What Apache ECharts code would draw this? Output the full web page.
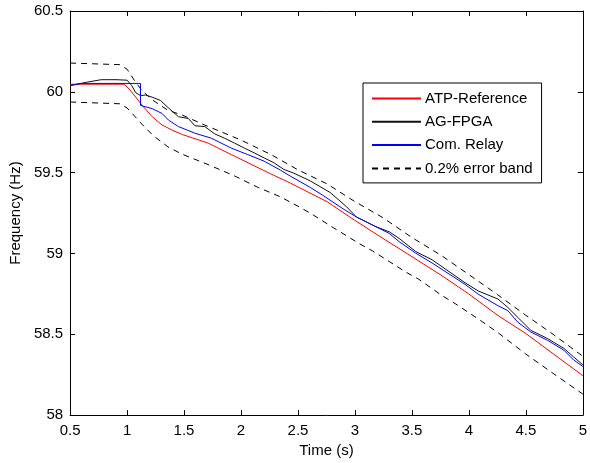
<!DOCTYPE html>
<html>
<head>
<meta charset="utf-8">
<script src="https://cdn.jsdelivr.net/npm/echarts@6/dist/echarts.min.js"></script>
<style>html,body{margin:0;padding:0;background:#fff}#c{width:590px;height:463px}</style>
</head>
<body>
<div id="c"></div>
<script>
// ---- data ----
var xTicks = [0.5, 1, 1.5, 2, 2.5, 3, 3.5, 4, 4.5, 5];
var yTicks = [58, 58.5, 59, 59.5, 60, 60.5];

var refT = [0.5, 0.974, 1.017, 1.075, 1.133, 1.22, 1.307, 1.393, 1.488, 1.711, 1.914, 2.268, 2.434, 2.756, 2.997, 3.244, 3.474, 3.764, 3.998, 4.255, 4.495, 4.739, 5.0];
var refF = [60.047, 60.047, 60.018, 59.968, 59.916, 59.846, 59.795, 59.764, 59.735, 59.683, 59.612, 59.49, 59.435, 59.32, 59.206, 59.094, 58.992, 58.862, 58.75, 58.616, 58.507, 58.38, 58.244];

var fpgaT = [0.5, 0.643, 0.773, 0.903, 1.0, 1.04, 1.076, 1.118, 1.162, 1.22, 1.292, 1.364, 1.451, 1.538, 1.595, 1.682, 1.769, 1.856, 1.942, 2.029, 2.116, 2.203, 2.289, 2.376, 2.463, 2.607, 2.781, 2.925, 3.012, 3.186, 3.301, 3.388, 3.533, 3.677, 3.966, 4.082, 4.255, 4.342, 4.429, 4.544, 4.689, 4.833, 4.919, 5.0];
var fpgaF = [60.038, 60.059, 60.075, 60.075, 60.072, 60.04, 59.995, 59.977, 59.98, 59.967, 59.947, 59.9, 59.846, 59.835, 59.79, 59.785, 59.74, 59.713, 59.683, 59.652, 59.622, 59.591, 59.561, 59.52, 59.497, 59.449, 59.378, 59.29, 59.226, 59.165, 59.134, 59.093, 59.012, 58.961, 58.819, 58.768, 58.718, 58.666, 58.605, 58.524, 58.474, 58.413, 58.36, 58.311];

var relayT = [0.5, 0.6, 1.118, 1.118, 1.22, 1.307, 1.364, 1.451, 1.595, 1.74, 1.914, 2.058, 2.203, 2.347, 2.434, 2.607, 2.722, 2.896, 3.012, 3.186, 3.301, 3.388, 3.533, 3.677, 3.966, 4.082, 4.255, 4.342, 4.429, 4.544, 4.689, 4.833, 4.919, 5.0];
var relayF = [60.04, 60.052, 60.052, 59.916, 59.896, 59.866, 59.825, 59.785, 59.744, 59.713, 59.652, 59.612, 59.571, 59.515, 59.478, 59.409, 59.358, 59.276, 59.226, 59.165, 59.124, 59.073, 59.002, 58.941, 58.809, 58.748, 58.677, 58.646, 58.575, 58.514, 58.463, 58.402, 58.341, 58.301];

var bandUpT = [0.5, 0.936, 1.0, 1.066, 1.13, 1.228, 1.358, 1.488, 1.683, 1.995, 2.268, 2.493, 2.756, 2.997, 3.244, 3.497, 3.764, 3.998, 4.252, 4.495, 4.739, 5.0];
var bandUpF = [60.178, 60.168, 60.14, 60.069, 60.008, 59.947, 59.886, 59.855, 59.794, 59.703, 59.61, 59.52, 59.43, 59.322, 59.222, 59.1, 58.985, 58.87, 58.745, 58.62, 58.5, 58.364];
var bandLoT = [0.5, 0.936, 1.0, 1.066, 1.13, 1.228, 1.358, 1.48, 1.711, 1.942, 2.145, 2.347, 2.492, 2.607, 2.809, 2.925, 3.04, 3.156, 3.301, 3.446, 3.561, 3.763, 3.879, 4.082, 4.255, 4.495, 4.739, 5.0];
var bandLoF = [59.937, 59.926, 59.9, 59.85, 59.8, 59.73, 59.66, 59.615, 59.55, 59.48, 59.41, 59.35, 59.295, 59.25, 59.16, 59.11, 59.06, 59.015, 58.95, 58.885, 58.84, 58.74, 58.69, 58.595, 58.51, 58.38, 58.258, 58.13];

var names = ['ATP-Reference', 'AG-FPGA', 'Com. Relay', '0.2% error band'];

function zip(a, b) { return a.map(function (v, i) { return [v, b[i]]; }); }

var FONT = 'Liberation Sans, Arial, Helvetica, sans-serif';
var chart = echarts.init(document.getElementById('c'), null, {renderer: 'canvas'});

function lineSeries(name, t, f, color, type, z) {
  return {
    name: name, type: 'line', data: zip(t, f), symbol: 'none', showSymbol: false,
    xAxisIndex: 0, yAxisIndex: 0, z: z, animation: false,
    lineStyle: {color: color, width: 1, type: type || 'solid'},
    itemStyle: {color: color}
  };
}

var axisCommon = {
  axisLine: {show: true, lineStyle: {color: '#000', width: 1}},
  axisTick: {show: true, inside: true, length: 5, lineStyle: {color: '#000'}},
  splitLine: {show: false}
};

chart.setOption({
  backgroundColor: '#fff',
  animation: false,
  grid: {left: 67, right: 4, top: 11, bottom: 42},
  legend: {
    data: names,
    orient: 'vertical',
    left: 363, top: 83,
    backgroundColor: '#fff',
    borderColor: '#000', borderWidth: 1,
    padding: [8, 9, 7, 8],
    itemWidth: 49, itemHeight: 14, itemGap: 8.3,
    itemStyle: {opacity: 0},
    textStyle: {fontFamily: FONT, fontSize: 15, color: '#000', padding: [0, 0, 0, -1]}
  },
  xAxis: [
    Object.assign({}, axisCommon, {
      type: 'value', position: 'bottom', min: 0.5, max: 5, interval: 0.5,
      name: 'Time (s)', nameLocation: 'middle', nameGap: 24,
      nameTextStyle: {fontFamily: FONT, fontSize: 15, color: '#000'},
      axisLabel: {fontFamily: FONT, fontSize: 15, color: '#000', margin: 8,
        formatter: function (v) { return String(v); }}
    }),
    Object.assign({}, axisCommon, {
      type: 'value', position: 'top', min: 0.5, max: 5, interval: 0.5,
      axisLabel: {show: false}
    })
  ],
  yAxis: [
    Object.assign({}, axisCommon, {
      type: 'value', position: 'left', min: 58, max: 60.5, interval: 0.5,
      name: 'Frequency (Hz)', nameLocation: 'middle', nameGap: 45, nameRotate: 90,
      nameTextStyle: {fontFamily: FONT, fontSize: 15, color: '#000'},
      axisLabel: {fontFamily: FONT, fontSize: 15, color: '#000', margin: 7,
        formatter: function (v) { return String(v); }}
    }),
    Object.assign({}, axisCommon, {
      type: 'value', position: 'right', min: 58, max: 60.5, interval: 0.5,
      axisLabel: {show: false}
    })
  ],
  series: [
    lineSeries(names[3], bandUpT, bandUpF, '#000', [6, 5], 2),
    lineSeries(names[3], bandLoT, bandLoF, '#000', [6, 5], 2),
    lineSeries(names[0], refT, refF, '#ff0000', 'solid', 3),
    lineSeries(names[1], fpgaT, fpgaF, '#111111', 'solid', 4),
    lineSeries(names[2], relayT, relayF, '#0000ff', 'solid', 5)
  ]
});
</script>
</body>
</html>
